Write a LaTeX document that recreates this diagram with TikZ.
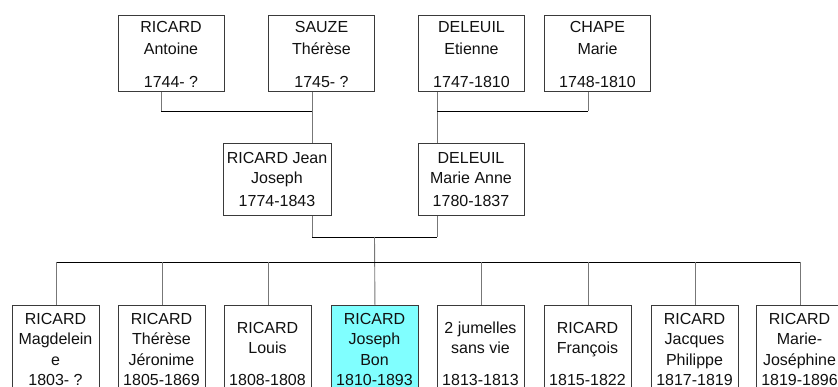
\documentclass[tikz,border=0pt]{standalone}
\usepackage{fontspec}
\setmainfont{Liberation Sans}
\definecolor{boxgray}{HTML}{3A3A3A}
\definecolor{linegray}{HTML}{777777}
\definecolor{selcyan}{HTML}{80FFFF}
\definecolor{txt}{HTML}{111111}
\newcommand\lns[1]{\begin{tabular}[t]{@{}c@{}}#1\end{tabular}}
\renewcommand\arraystretch{1}
\begin{document}
\begin{tikzpicture}[x=1pt,y=-1pt,
  cell/.style={draw=boxgray, line width=0.9pt, fill=white, inner sep=0pt, anchor=north west},
  topcell/.style={cell, minimum width=106pt, minimum height=76pt},
  midcell/.style={cell, minimum width=108pt, minimum height=72pt},
  kidcell/.style={cell, minimum width=87pt, minimum height=100pt},
  nmA/.style={anchor=base, inner sep=0pt, text=txt, font=\fontsize{16}{22}\selectfont},
  nmB/.style={anchor=base, inner sep=0pt, text=txt, font=\fontsize{16}{20}\selectfont},
  vl/.style={draw=linegray, line width=0.9pt},
  hl/.style={draw=black, line width=0.9pt}]
\useasboundingbox (0,0) rectangle (838,387);
\fill[white] (0,0) rectangle (838,387);

% grandparents
\node[topcell] (ant) at (118,15) {};
\node[topcell] (sau) at (268,15) {};
\node[topcell] (del) at (418,15) {};
\node[topcell] (cha) at (544,15) {};
\node[nmA] (antN) at (171,33) {\lns{RICARD\\Antoine}};
\node[nmA] (antD) at (171,88) {1744- ?};
\node[nmA] (sauN) at (321.5,33) {\lns{SAUZE\\Thérèse}};
\node[nmA] (sauD) at (321.5,88) {1745- ?};
\node[nmA] (delN) at (471.5,33) {\lns{DELEUIL\\Etienne}};
\node[nmA] (delD) at (471.5,88) {1747-1810};
\node[nmA] (chaN) at (597.5,33) {\lns{CHAPE\\Marie}};
\node[nmA] (chaD) at (597.5,88) {1748-1810};

% parents
\node[midcell] (jj) at (223,143) {};
\node[midcell, minimum width=106pt] (ma) at (418,143) {};
\node[nmB] (jjN) at (277,164) {\lns{RICARD Jean\\Joseph}};
\node[nmB] (jjD) at (277,207) {1774-1843};
\node[nmB] (maN) at (471,164) {\lns{DELEUIL\\Marie Anne}};
\node[nmB] (maD) at (471,207) {1780-1837};

% children
\node[kidcell] (c1) at (12,305) {};
\node[kidcell] (c2) at (118,305) {};
\node[kidcell] (c3) at (224,305) {};
\node[kidcell, fill=selcyan] (c4) at (331,305) {};
\node[kidcell] (c5) at (437,305) {};
\node[kidcell] (c6) at (544,305) {};
\node[kidcell] (c7) at (651,305) {};
\node[kidcell] (c8) at (756,305) {};

\node[nmB] (c1N) at (55.5,325) {\lns{RICARD\\Magdelein\\e}};
\node[nmB] (c1D) at (55.5,385) {1803- ?};
\node[nmB] (c2N) at (161.5,325) {\lns{RICARD\\Thérèse\\Jéronime}};
\node[nmB] (c2D) at (161.5,385) {1805-1869};
\node[nmB] (c3N) at (267.5,334) {\lns{RICARD\\Louis}};
\node[nmB] (c3D) at (267.5,385) {1808-1808};
\node[nmB] (c4N) at (374.5,325) {\lns{RICARD\\Joseph\\Bon}};
\node[nmB] (c4D) at (374.5,385) {1810-1893};
\node[nmB] (c5N) at (480.5,334) {\lns{2 jumelles\\sans vie}};
\node[nmB] (c5D) at (480.5,385) {1813-1813};
\node[nmB] (c6N) at (587.5,334) {\lns{RICARD\\François}};
\node[nmB] (c6D) at (587.5,385) {1815-1822};
\node[nmB] (c7N) at (694.5,325) {\lns{RICARD\\Jacques\\Philippe}};
\node[nmB] (c7D) at (694.5,385) {1817-1819};
\node[nmB] (c8N) at (799.5,325) {\lns{RICARD\\Marie-\\Joséphine}};
\node[nmB] (c8D) at (799.5,385) {1819-1896};

% connectors: grandparents -> parents
\coordinate (h1l) at (161,111);
\coordinate (h1r) at (312,111);
\coordinate (h2l) at (437,111);
\coordinate (h2r) at (588,111);
\draw[vl] (ant.south -| h1l) -- (h1l);
\draw[vl] (sau.south -| h1r) -- (jj.north -| h1r);
\draw[hl] (h1l) -- (h1r);
\draw[vl] (del.south -| h2l) -- (ma.north -| h2l);
\draw[vl] (cha.south -| h2r) -- (h2r);
\draw[hl] (h2l) -- (h2r);

% parents -> children
\coordinate (m1) at (312,237);
\coordinate (m2) at (437,237);
\coordinate (mc) at (374.5,237);
\coordinate (bar) at (0,262);
\draw[vl] (jj.south -| m1) -- (m1);
\draw[vl] (ma.south -| m2) -- (m2);
\draw[hl] (m1) -- (m2);
\draw[vl] (mc) -- (c4.north);
\draw[hl] (c1.north |- bar) -- (c8.north |- bar);
\foreach \c in {c1,c2,c3,c5,c6,c7,c8}{
  \draw[vl] (\c.north |- bar) -- (\c.north);
}
\end{tikzpicture}
\end{document}
